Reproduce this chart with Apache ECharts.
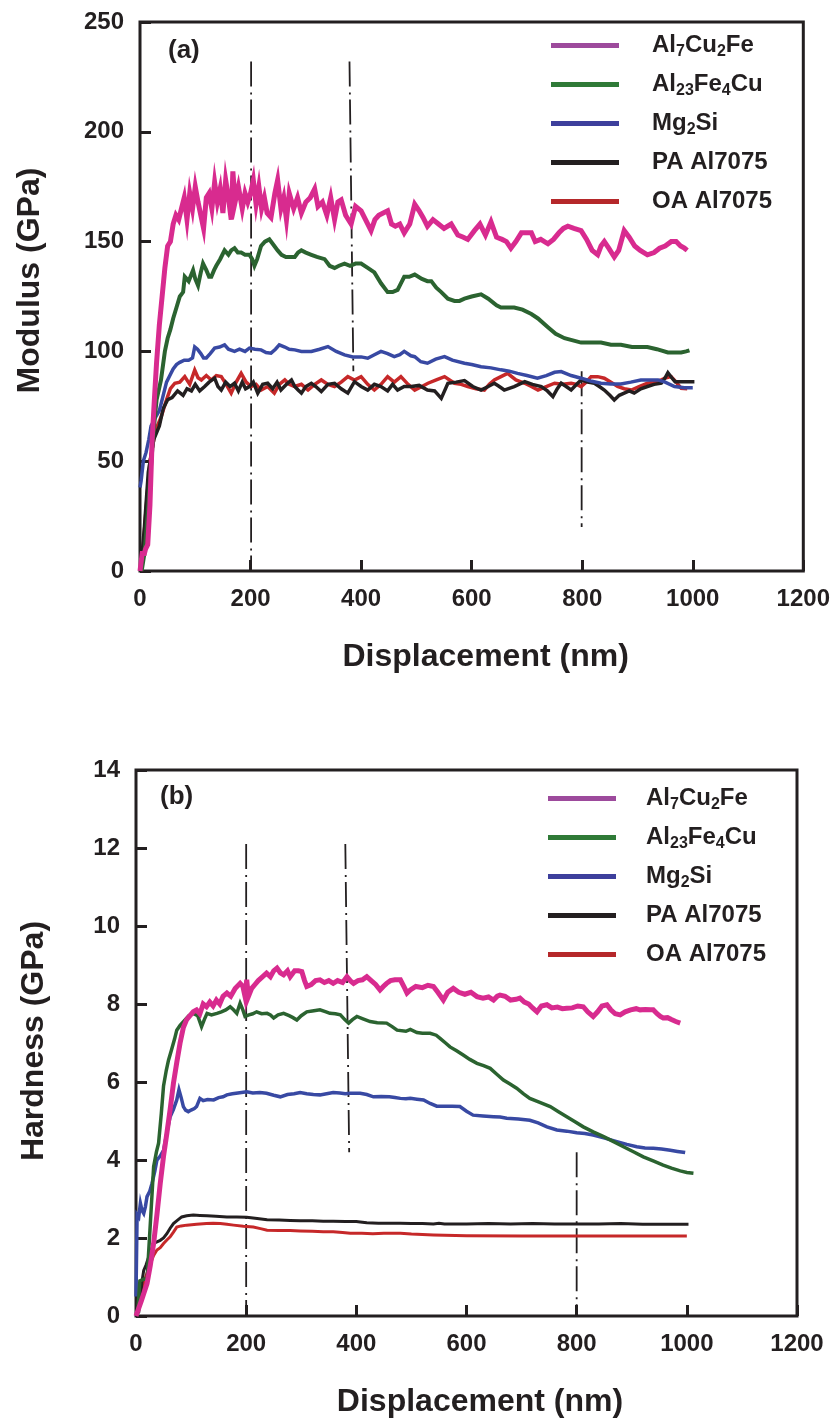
<!DOCTYPE html>
<html>
<head>
<meta charset="utf-8">
<script src="https://cdn.jsdelivr.net/npm/echarts@6/dist/echarts.min.js"></script>
<style>html,body{margin:0;padding:0;background:#fff}#c{width:833px;height:1426px}</style>
</head>
<body>
<div id="c"></div>
<script>
// ---------- DATA (x = displacement nm, y = value) ----------
const xTicks = [0, 200, 400, 600, 800, 1000, 1200];
const seriesNames = ['Al7Cu2Fe', 'Al23Fe4Cu', 'Mg2Si', 'PA Al7075', 'OA Al7075'];

// (a) Modulus (GPa)
const modAl7Cu2Fe = [[0,0],[4,8],[8,8],[10,10],[14,12],[18,30],[22,60],[26,78],[30,95],[35,112],[40,125],[45,138],[50,148],[55,150],[60,158],[65,162],[70,160],[75,165],[80,170],[85,160],[90,172],[95,165],[100,175],[105,168],[110,162],[115,156],[120,170],[125,172],[130,165],[135,177],[140,168],[145,174],[150,163],[155,178],[160,170],[165,160],[168,182],[172,168],[178,175],[185,165],[190,172],[195,168],[200,172],[205,178],[210,167],[215,175],[220,165],[225,170],[230,163],[237,161],[244,172],[249,178],[255,165],[260,170],[265,160],[270,172],[278,165],[285,170],[292,163],[300,168],[308,170],[316,174],[322,166],[330,168],[338,162],[345,170],[352,160],[358,168],[364,169],[372,162],[382,158],[390,166],[400,164],[408,160],[418,155],[425,160],[432,162],[440,163],[448,164],[455,158],[462,157],[470,158],[478,154],[488,158],[497,167],[505,164],[512,161],[520,157],[530,160],[540,158],[550,156],[563,158],[575,153],[585,152],[593,151],[605,155],[615,158],[625,153],[635,159],[645,152],[655,151],[663,150],[671,147],[680,150],[690,154],[700,154],[708,154],[715,150],[725,151],[738,149],[748,151],[758,154],[766,156],[774,157],[785,156],[798,155],[808,151],[818,146],[828,144],[834,148],[840,150],[848,147],[858,143],[866,146],[876,155],[885,152],[895,148],[905,146],[918,144],[930,145],[940,147],[950,148],[961,150],[970,150],[978,148],[985,147],[990,146]];
const modAl23Fe4Cu = [[3,0],[8,8],[11,17],[15,30],[20,48],[25,65],[30,78],[38,87],[45,100],[50,106],[55,110],[60,115],[66,120],[72,125],[78,127],[81,134],[88,132],[96,137],[100,133],[105,130],[110,136],[114,140],[120,137],[125,134],[129,134],[134,137],[138,139],[145,142],[153,146],[160,144],[165,146],[171,147],[177,145],[183,145],[190,144],[198,144],[203,142],[207,139],[212,142],[219,148],[226,150],[234,151],[240,149],[249,146],[256,144],[264,143],[272,143],[280,143],[286,145],[292,146],[300,145],[310,144],[320,143],[334,142],[343,139],[352,138],[360,139],[370,140],[380,139],[390,140],[400,140],[412,138],[424,136],[436,131],[448,127],[457,127],[466,128],[472,131],[478,134],[487,134],[497,135],[510,133],[520,132],[527,132],[536,129],[545,127],[557,124],[569,123],[578,123],[587,124],[600,125],[617,126],[630,124],[645,121],[653,120],[665,120],[677,120],[692,119],[708,117],[720,115],[738,111],[752,108],[768,106],[783,105],[798,104],[816,104],[834,104],[852,103],[870,103],[890,102],[918,102],[935,101],[955,99.5],[970,99.5],[979,99.5],[988,100],[994,100.5]];
const modMg2Si = [[0,38],[2,41],[6,50],[11,54],[16,60],[20,66],[28,70],[35,73],[42,80],[48,86],[54,89],[60,92],[66,94],[72,95],[80,96],[88,96],[95,97],[99,102],[104,101],[110,99],[115,97],[120,97],[127,99],[135,101.5],[144,102],[153,103],[160,101],[171,100],[180,101],[190,100],[198,101.5],[208,101],[219,100.7],[228,99.5],[237,99.2],[245,101],[252,103],[262,102],[270,101],[280,100.7],[292,100],[310,100],[325,101],[340,102.2],[355,100],[370,98.4],[385,97.5],[400,97.5],[412,96.9],[424,98.5],[436,100],[448,99],[460,97.6],[470,98.5],[478,100],[490,98],[497,97.6],[508,95.3],[520,94.6],[535,96.5],[551,97.6],[565,96],[587,94.6],[600,94],[617,93],[635,92.5],[653,91.6],[668,91],[683,90],[700,89],[719,87.8],[735,89],[750,90.5],[762,90.8],[780,89],[798,87.8],[815,86.5],[834,85.5],[852,85.2],[870,85.2],[888,86],[906,87],[920,87],[937,87],[950,86],[967,84],[985,83.5],[1000,83.5]];
const modPA = [[3,5],[8,20],[15,45],[25,60],[35,66],[42,74],[50,78],[58,79],[68,82],[78,80],[85,83],[93,82],[100,85],[108,82],[117,84],[125,86],[135,87.8],[141,84],[147,82.4],[155,86],[163,84],[171,85.5],[178,82],[185,86],[191,83],[198,84],[205,86],[213,81],[222,85],[231,85.5],[240,83],[248,86],[255,82.4],[265,85],[274,87],[280,84],[286,82.4],[292,81],[300,84],[310,85.5],[318,84],[328,81.7],[340,85],[352,85.5],[364,83],[376,81],[388,86.2],[400,84],[412,82.4],[424,85],[436,84],[448,82],[457,85],[466,82.4],[478,84],[491,84],[505,84.5],[520,82.4],[533,82],[545,78.6],[557,85.5],[572,86],[587,86.7],[602,84],[617,82.4],[630,84],[641,85.5],[650,84],[659,82.4],[677,84],[696,86.2],[710,85],[726,84],[737,82],[747,79.4],[755,83],[762,85.5],[771,84],[780,82.4],[790,85],[798,87],[810,86],[822,85.5],[831,84],[840,82.4],[850,80],[858,77.9],[867,80],[876,81],[885,82],[894,81],[906,83],[918,84],[930,85],[943,85.5],[950,88],[955,90.3],[962,88],[968,86.2],[980,86.2],[1003,86.2]];
const modOA = [[4,5],[10,25],[18,50],[28,64],[38,70],[48,78],[55,83],[63,85.5],[72,86],[81,88.5],[90,85],[99,91.5],[105,88],[111,87],[120,89],[129,87],[138,89],[147,88.5],[156,85],[165,81],[174,86],[183,90],[192,86],[201,84],[210,85],[219,82.4],[231,84],[243,81],[252,85],[262,87],[270,85],[280,84],[292,85],[304,82.4],[316,85],[328,87],[340,85],[352,84],[364,86],[376,88.5],[388,87],[400,88.5],[412,85],[424,82.4],[436,85],[448,88.5],[460,86],[472,88.5],[485,85],[497,82.4],[510,84],[521,85.5],[536,87],[551,88.5],[560,87],[569,85.5],[581,85],[593,84],[608,83],[623,82.4],[632,85],[641,87],[653,88.5],[665,90],[680,87],[696,85.5],[708,84],[720,82.4],[735,84],[750,85.5],[765,85],[780,85.5],[790,85],[798,84],[807,86],[816,88.5],[828,88.5],[840,87.8],[852,86],[864,84],[876,83],[889,82.4],[903,84],[918,85.5],[930,86],[943,87],[952,88],[961,88.5],[970,86],[979,83.2],[990,83]];
const modRefLines = [[[201,232],[201,0]], [[379,232],[386,91]], [[799,91],[799,20]]];

// (b) Hardness (GPa)
const hardAl7Cu2Fe = [[0,0],[2,0],[10,0.4],[20,0.83],[26,1.3],[32,1.86],[38,2.6],[44,3.4],[50,4.1],[56,4.68],[62,5.3],[68,5.97],[74,6.5],[80,7.0],[86,7.4],[92,7.6],[98,7.7],[104,7.8],[110,7.85],[116,7.75],[122,8.0],[128,7.93],[134,8.05],[140,7.95],[146,8.1],[152,8.0],[158,8.2],[165,8.28],[172,8.2],[180,8.4],[189,8.53],[194,8.45],[198,8.19],[201,8.62],[204,8.19],[210,8.4],[216,8.5],[222,8.6],[230,8.7],[237,8.79],[244,8.7],[250,8.85],[256,8.92],[262,8.8],[268,8.75],[275,8.85],[280,8.7],[288,8.85],[295,8.85],[301,8.83],[306,8.6],[310,8.45],[318,8.5],[326,8.6],[334,8.62],[342,8.55],[350,8.6],[358,8.53],[366,8.6],[375,8.55],[383,8.7],[389,8.6],[395,8.53],[403,8.6],[411,8.62],[419,8.7],[427,8.6],[435,8.5],[443,8.36],[449,8.45],[455,8.53],[462,8.6],[470,8.62],[480,8.62],[488,8.4],[492,8.28],[498,8.36],[508,8.45],[520,8.42],[530,8.48],[540,8.45],[548,8.3],[558,8.1],[566,8.3],[576,8.4],[586,8.3],[597,8.25],[608,8.3],[619,8.19],[630,8.15],[640,8.18],[649,8.1],[656,8.2],[661,8.23],[670,8.2],[680,8.1],[690,8.12],[697,8.15],[705,8.05],[713,8.0],[720,7.9],[728,7.8],[736,7.95],[746,7.98],[755,7.9],[765,7.92],[774,7.88],[782,7.89],[792,7.9],[802,7.95],[812,7.93],[820,7.8],[830,7.68],[838,7.8],[846,7.95],[855,7.98],[862,7.85],[870,7.75],[879,7.72],[888,7.8],[898,7.85],[908,7.88],[915,7.85],[925,7.86],[934,7.85],[939,7.85],[946,7.75],[952,7.68],[957,7.64],[965,7.65],[972,7.6],[980,7.55],[988,7.51]];
const hardAl23Fe4Cu = [[3,0.1],[7,0.9],[15,0.95],[20,0.92],[26,2.37],[32,3.83],[37,4.2],[41,4.43],[46,5.2],[50,5.9],[55,6.3],[59,6.56],[64,6.8],[70,7.1],[74,7.33],[80,7.45],[89,7.59],[96,7.7],[104,7.76],[112,7.7],[119,7.42],[124,7.6],[129,7.76],[137,7.72],[147,7.76],[155,7.8],[163,7.85],[171,7.93],[177,7.85],[183,7.76],[189,8.02],[194,7.85],[198,7.68],[205,7.72],[212,7.75],[219,7.8],[228,7.75],[238,7.76],[244,7.72],[250,7.64],[258,7.72],[268,7.76],[278,7.7],[285,7.65],[292,7.59],[300,7.7],[310,7.8],[320,7.82],[334,7.85],[345,7.8],[352,7.76],[362,7.75],[371,7.72],[379,7.6],[386,7.51],[393,7.6],[401,7.68],[412,7.62],[425,7.55],[438,7.52],[455,7.51],[465,7.42],[474,7.33],[490,7.3],[498,7.35],[510,7.27],[520,7.25],[534,7.25],[545,7.2],[552,7.12],[562,7.0],[570,6.9],[582,6.8],[594,6.69],[606,6.58],[619,6.48],[631,6.42],[643,6.35],[655,6.2],[667,6.05],[679,5.95],[691,5.84],[703,5.7],[715,5.58],[733,5.48],[752,5.37],[767,5.24],[782,5.11],[797,4.98],[812,4.85],[830,4.72],[849,4.6],[867,4.47],[885,4.34],[903,4.21],[921,4.08],[940,3.97],[957,3.87],[972,3.79],[988,3.72],[1000,3.68],[1012,3.66]];
const hardMg2Si = [[0,0.5],[2,2.6],[5,2.54],[8,2.89],[11,2.7],[14,2.63],[17,2.8],[20,3.06],[25,3.2],[29,3.4],[34,3.7],[38,4.0],[44,4.1],[50,4.25],[56,4.7],[62,5.11],[68,5.3],[74,5.54],[78,5.8],[82,5.6],[86,5.37],[90,5.28],[95,5.24],[100,5.28],[106,5.32],[110,5.37],[116,5.58],[122,5.52],[130,5.55],[141,5.54],[150,5.6],[158,5.62],[165,5.67],[175,5.7],[185,5.72],[201,5.75],[212,5.72],[225,5.73],[237,5.71],[250,5.66],[262,5.62],[275,5.68],[287,5.7],[298,5.73],[310,5.7],[322,5.68],[334,5.67],[346,5.7],[358,5.73],[370,5.72],[380,5.7],[389,5.71],[400,5.71],[407,5.71],[419,5.68],[431,5.62],[445,5.63],[460,5.62],[470,5.6],[480,5.58],[490,5.57],[498,5.58],[510,5.56],[522,5.54],[534,5.45],[546,5.38],[560,5.38],[574,5.38],[588,5.37],[600,5.25],[612,5.15],[630,5.13],[649,5.11],[661,5.1],[673,5.07],[694,5.05],[715,5.02],[730,4.95],[746,4.85],[764,4.77],[782,4.74],[800,4.7],[815,4.68],[830,4.64],[851,4.56],[873,4.47],[891,4.4],[909,4.34],[924,4.31],[939,4.3],[954,4.28],[970,4.25],[983,4.22],[997,4.19]];
const hardPA = [[0,0.05],[5,0.1],[8,0.15],[11,0.9],[14,1.17],[18,1.3],[23,1.51],[28,1.7],[32,1.86],[38,1.9],[44,1.94],[50,2.0],[56,2.11],[62,2.25],[68,2.37],[75,2.45],[83,2.54],[92,2.57],[104,2.59],[116,2.58],[129,2.57],[145,2.56],[165,2.54],[183,2.54],[201,2.53],[220,2.5],[238,2.47],[260,2.46],[280,2.45],[298,2.44],[320,2.44],[340,2.43],[358,2.43],[380,2.42],[400,2.42],[407,2.41],[419,2.39],[440,2.38],[460,2.38],[480,2.38],[500,2.37],[520,2.37],[540,2.36],[550,2.38],[560,2.36],[600,2.36],[640,2.37],[680,2.36],[720,2.37],[760,2.36],[800,2.36],[840,2.36],[880,2.37],[920,2.35],[960,2.35],[1003,2.35]];
const hardOA = [[2,0.1],[8,0.4],[15,0.9],[25,1.3],[32,1.55],[38,1.69],[44,1.75],[50,1.86],[56,1.95],[62,2.03],[68,2.15],[74,2.28],[82,2.31],[92,2.33],[110,2.35],[128,2.37],[140,2.38],[153,2.37],[165,2.35],[177,2.33],[195,2.3],[213,2.28],[226,2.24],[238,2.2],[260,2.19],[280,2.19],[298,2.18],[320,2.17],[340,2.16],[358,2.16],[375,2.14],[389,2.12],[410,2.12],[430,2.11],[450,2.12],[480,2.12],[500,2.1],[520,2.09],[540,2.08],[560,2.07],[600,2.06],[700,2.05],[800,2.05],[900,2.05],[1000,2.05]];
const hardRefLines = [[[200,12.1],[200,0]], [[380,12.1],[387,4.2]], [[800,4.2],[800,0]]];

// ---------- STYLE ----------
const FONT = "'Liberation Sans', Arial, Helvetica, sans-serif";
const INK = '#231f20';
const lineColors = {'Al7Cu2Fe':'#d82b8f','Al23Fe4Cu':'#2b6330','Mg2Si':'#3849a3','PA Al7075':'#231f20','OA Al7075':'#c62829'};
const legendColors = {'Al7Cu2Fe':'#9d4a9c','Al23Fe4Cu':'#2f7a37','Mg2Si':'#3d3f9c','PA Al7075':'#231f20','OA Al7075':'#b5282a'};
const richNames = {
  'Al7Cu2Fe':'{f|Al}{s|7}{n|Cu}{s|2}{n|Fe}',
  'Al23Fe4Cu':'{f|Al}{s|23}{n|Fe}{s|4}{n|Cu}',
  'Mg2Si':'{f|Mg}{s|2}{n|Si}',
  'PA Al7075':'{f|PA Al7075}',
  'OA Al7075':'{f|OA Al7075}'
};

function makeLegend(left, top, textPad) {
  return {
    orient:'vertical', left:left, top:top, padding:0,
    itemWidth:68, itemHeight:5, itemGap:11, icon:'rect',
    selectedMode:false,
    data: seriesNames.map(n => ({name:n, itemStyle:{color:legendColors[n], borderWidth:0}})),
    formatter: n => richNames[n],
    textStyle:{
      color:INK, fontFamily:FONT, fontWeight:'bold', fontSize:24, lineHeight:28,
      rich:{
        f:{fontFamily:FONT, fontWeight:'bold', fontSize:24, lineHeight:28, color:INK, padding:[0,0,0,textPad]},
        n:{fontFamily:FONT, fontWeight:'bold', fontSize:24, lineHeight:28, color:INK},
        s:{fontFamily:FONT, fontWeight:'bold', fontSize:16, lineHeight:28, color:INK, verticalAlign:'bottom'}
      }
    }
  };
}

function xAx(gi, namePad) {
  return {
    gridIndex:gi, type:'value', min:0, max:1200, interval:200,
    name:'Displacement (nm)', nameLocation:'middle', nameGap:70,
    nameTextStyle:{fontFamily:FONT, fontWeight:'bold', fontSize:32, color:INK, padding:[0,0,0,namePad]},
    axisLine:{show:false},
    axisTick:{show:true, inside:true, length:11, lineStyle:{color:INK, width:3}},
    axisLabel:{fontFamily:FONT, fontWeight:'bold', fontSize:24, color:INK, margin:16,
      formatter: v => xTicks.indexOf(v) >= 0 ? String(v) : ''},
    splitLine:{show:false}
  };
}
function yAx(gi, name, max, interval, gap, namePad) {
  return {
    gridIndex:gi, type:'value', min:0, max:max, interval:interval,
    name:name, nameLocation:'middle', nameGap:gap, nameRotate:90,
    nameTextStyle:{fontFamily:FONT, fontWeight:'bold', fontSize:32, color:INK, padding:[0,0,0,namePad]},
    axisLine:{show:false},
    axisTick:{show:true, inside:true, length:11, lineStyle:{color:INK, width:3}},
    axisLabel:{fontFamily:FONT, fontWeight:'bold', fontSize:24, color:INK, margin:16},
    splitLine:{show:false}
  };
}

function dataSeries(name, data, gi, width) {
  return {type:'line', name:name, data:data, xAxisIndex:gi, yAxisIndex:gi,
    showSymbol:false, symbol:'none', silent:true,
    lineStyle:{color:lineColors[name], width:width, join:'miter'},
    itemStyle:{color:lineColors[name]}};
}
function refSeries(pts, gi) {
  return {type:'line', name:'ref', data:pts, xAxisIndex:gi, yAxisIndex:gi,
    showSymbol:false, symbol:'none', silent:true, z:1,
    lineStyle:{color:INK, width:1.8, type:[25,6,2,5]}};
}

const series = [];
modRefLines.forEach(p => series.push(refSeries(p, 0)));
hardRefLines.forEach(p => series.push(refSeries(p, 1)));
series.push(dataSeries('OA Al7075', modOA, 0, 3.5));
series.push(dataSeries('PA Al7075', modPA, 0, 3.5));
series.push(dataSeries('Mg2Si', modMg2Si, 0, 3.5));
series.push(dataSeries('Al23Fe4Cu', modAl23Fe4Cu, 0, 4));
series.push(dataSeries('Al7Cu2Fe', modAl7Cu2Fe, 0, 5));
series.push(dataSeries('OA Al7075', hardOA, 1, 3));
series.push(dataSeries('PA Al7075', hardPA, 1, 3));
series.push(dataSeries('Mg2Si', hardMg2Si, 1, 3.5));
series.push(dataSeries('Al23Fe4Cu', hardAl23Fe4Cu, 1, 3.5));
series.push(dataSeries('Al7Cu2Fe', hardAl7Cu2Fe, 1, 5));

const chart = echarts.init(document.getElementById('c'), null, {renderer:'canvas'});
chart.setOption({
  animation:false,
  backgroundColor:'#fff',
  grid:[
    {left:140, top:22, width:664, height:549, show:true, borderColor:INK, borderWidth:3, backgroundColor:'transparent'},
    {left:136, top:770, width:661, height:546, show:true, borderColor:INK, borderWidth:3, backgroundColor:'transparent'}
  ],
  xAxis:[xAx(0, 28), xAx(1, 27)],
  yAxis:[yAx(0, 'Modulus (GPa)', 250, 50, 94, 32), yAx(1, 'Hardness (GPa)', 14, 2, 86, 4)],
  legend:[makeLegend(551, 31.5, 28), makeLegend(548, 784.5, 25)],
  graphic:[
    {type:'text', left:168, top:38, style:{text:'(a)', fontFamily:FONT, fontWeight:'bold', fontSize:26, fill:INK}},
    {type:'text', left:160, top:784, style:{text:'(b)', fontFamily:FONT, fontWeight:'bold', fontSize:26, fill:INK}}
  ],
  series:series
});
</script>
</body>
</html>
